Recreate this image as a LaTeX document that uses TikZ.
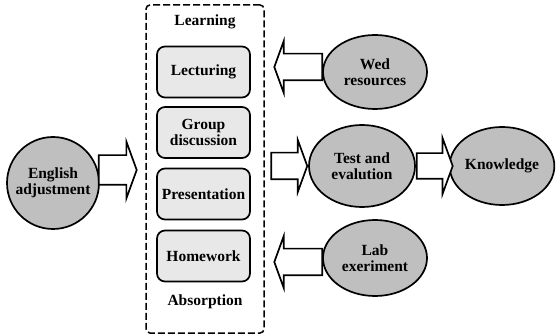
\documentclass[tikz,border=0pt]{standalone}
\usepackage{fontspec}
\setmainfont{Liberation Serif}
\usepackage{tikz}
\usetikzlibrary{shapes.geometric, shapes.arrows}

\begin{document}
\begin{tikzpicture}[x=1pt, y=-1pt,
                    every node/.style={font=\bfseries\fontsize{15.5}{16.5}\selectfont, align=center},
                    source/.style={ellipse, draw, line width=1.7pt, fill=gray!50, inner sep=0pt},
                    method/.style={rectangle, rounded corners=8pt, draw, line width=1.7pt, fill=gray!18, minimum width=93pt, minimum height=51pt, inner sep=0pt},
                    frame/.style={rectangle, rounded corners=4pt, draw, line width=1.5pt, dash pattern=on 7pt off 3pt, minimum width=118pt, minimum height=328pt},
                    flow/.style={single arrow, draw, line width=1.7pt, fill=white, inner xsep=0pt, single arrow tip angle=140, single arrow head indent=0pt}]

            \useasboundingbox (0,0) rectangle (556,336);

            \node[frame] (learn) at (205,169) {};
            \node (top) at (205,22) {Learning};
            \node (bottom) at (205,302) {Absorption};

            \node[method] (m1) at (203.5,72)  {Lecturing};
            \node[method] (m2) at (203.5,132.5) {Group\\discussion};
            \node[method] (m3) at (203.5,194) {Presentation};
            \node[method] (m4) at (203.5,256) {Homework};

            \node[source, circle, minimum size=92pt] (eng) at (53,183) {English\\adjustment};
            \node[source, minimum width=104pt, minimum height=74pt] (wed) at (375,72)  {Wed\\resources};
            \node[source, minimum width=106pt, minimum height=82pt] (test) at (362,166) {Test and\\evalution};
            \node[source, minimum width=102pt, minimum height=78pt] (know) at (502,166) {Knowledge};
            \node[source, minimum width=104pt, minimum height=76pt] (lab) at (375,258) {Lab\\exeriment};

            \node[flow, inner ysep=14pt, single arrow head extend=13.5pt, minimum height=38pt, anchor=tail] (a1) at ([shift={(-2,-13)}]eng.east) {};
            \node[flow, inner ysep=12.5pt, single arrow head extend=12.5pt, minimum height=36pt, anchor=tip] (a2) at (test.west) {};
            \node[flow, inner ysep=12pt, single arrow head extend=15pt, minimum height=36pt, anchor=tail] (a3) at (test.east) {};
            \node[flow, inner ysep=12.5pt, single arrow head extend=12.5pt, minimum height=48pt, shape border rotate=180, anchor=tail] (a4) at ([shift={(1,-5)}]wed.west) {};
            \node[flow, inner ysep=12.5pt, single arrow head extend=12.5pt, minimum height=48pt, shape border rotate=180, anchor=tail] (a5) at ([shift={(1,4)}]lab.west) {};
        \end{tikzpicture}
\end{document}
